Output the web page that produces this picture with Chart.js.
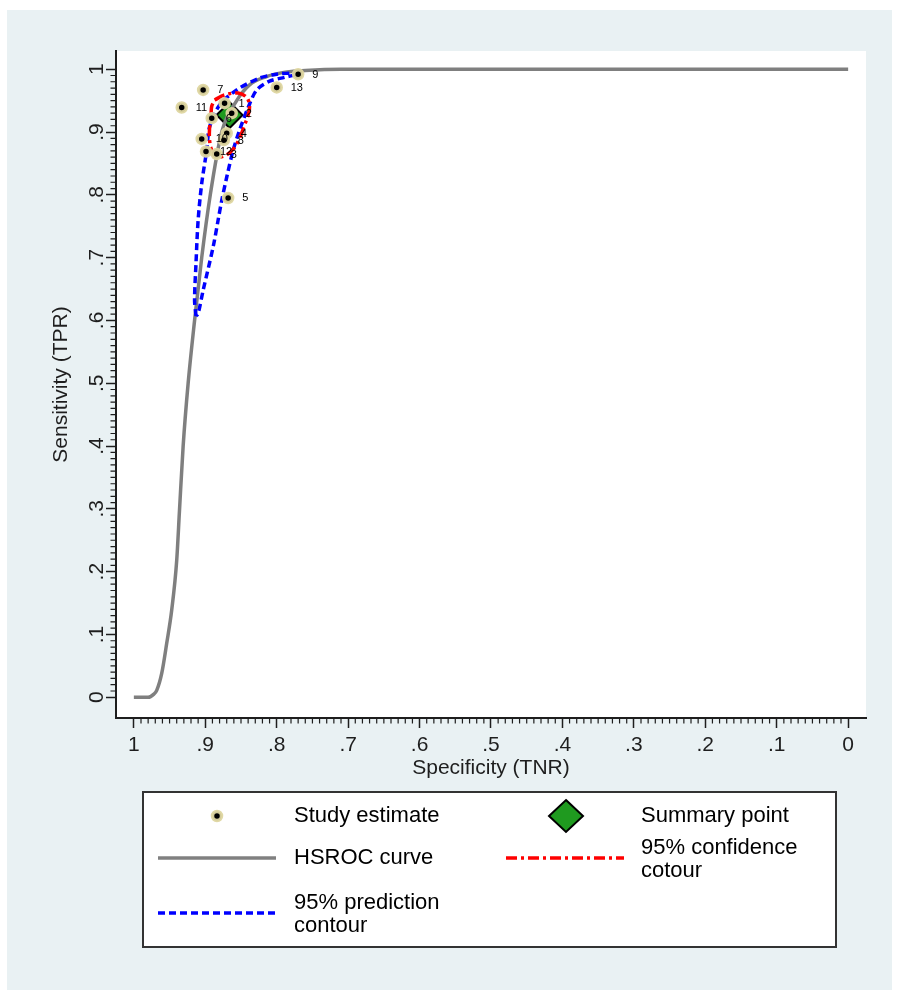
<!DOCTYPE html>
<html>
<head>
<meta charset="utf-8">
<title>HSROC</title>
<script src="https://cdn.jsdelivr.net/npm/chart.js@4.4.0/dist/chart.umd.min.js"></script>
<style>
  html, body { margin: 0; padding: 0; background: #fff; }
  canvas { display: block; }
</style>
</head>
<body>
<canvas id="roc" width="897" height="994"></canvas>
<script>
// --- 1. Data ---
// HSROC curve (specificity, sensitivity)
const hsrocSpec = [1.0, 0.98, 0.972, 0.968, 0.961, 0.954, 0.947, 0.940, 0.936, 0.931, 0.924, 0.915, 0.905, 0.893, 0.877, 0.856, 0.838, 0.815, 0.79, 0.76, 0.71, 0.65, 0.0];
const hsrocSens = [0, 0, 0.005, 0.011, 0.038, 0.086, 0.139, 0.218, 0.30, 0.40, 0.50, 0.60, 0.70, 0.80, 0.90, 0.95, 0.975, 0.988, 0.995, 0.998, 1.0, 1.0, 1.0];

// 95% prediction contour (closed loop)
const predSpec = [0.913, 0.915, 0.913, 0.910, 0.905, 0.898, 0.894, 0.880, 0.856, 0.824, 0.800, 0.777, 0.768, 0.789, 0.810, 0.828, 0.840, 0.852, 0.861, 0.870, 0.877, 0.882, 0.889, 0.903, 0.910, 0.913];
const predSens = [0.607, 0.632, 0.691, 0.760, 0.818, 0.871, 0.908, 0.943, 0.967, 0.986, 0.992, 0.994, 0.993, 0.987, 0.981, 0.967, 0.939, 0.903, 0.871, 0.828, 0.791, 0.760, 0.717, 0.648, 0.611, 0.607];

// 95% confidence contour (closed loop)
const confSpec = [0.887, 0.873, 0.854, 0.842, 0.838, 0.840, 0.845, 0.852, 0.860, 0.871, 0.884, 0.891, 0.894, 0.894, 0.892, 0.891, 0.887];
const confSens = [0.951, 0.959, 0.962, 0.955, 0.941, 0.927, 0.911, 0.890, 0.874, 0.863, 0.861, 0.871, 0.887, 0.906, 0.927, 0.941, 0.951];

// study estimates
const studyIds  = ['1', '2', '3', '4', '5', '6', '7', '8', '9', '10', '11', '12', '13'];
const studySpec = [0.873, 0.863, 0.884, 0.870, 0.868, 0.891, 0.903, 0.874, 0.770, 0.905, 0.933, 0.899, 0.800];
const studySens = [0.946, 0.930, 0.865, 0.898, 0.795, 0.922, 0.967, 0.887, 0.992, 0.889, 0.939, 0.869, 0.971];

// summary point
const summarySpec = [0.866];
const summarySens = [0.927];

// axis ticks
const tickValues = [0, 0.1, 0.2, 0.3, 0.4, 0.5, 0.6, 0.7, 0.8, 0.9, 1];
const tickLabels = ['0', '.1', '.2', '.3', '.4', '.5', '.6', '.7', '.8', '.9', '1'];
const minorTickValues = [];
for (let i = 0; i <= 100; i++) { if (i % 10 !== 0) minorTickValues.push(i / 100); }

const FONT = "'Liberation Sans', Arial, sans-serif";
const INK = '#1e1e1e';
const HALO = 'rgba(222,214,160,0.95)';

function toPoints(xs, ys) {
    return xs.map((x, i) => ({ x: x, y: ys[i] }));
}

function labelFor(value) {
    const i = tickValues.findIndex(v => Math.abs(v - value) < 1e-9);
    return i >= 0 ? tickLabels[i] : '';
}

// --- 2. Plugins ---
// background panels
const backgroundPlugin = {
    id: 'background',
    beforeDraw(chart) {
        const { ctx, chartArea } = chart;
        ctx.save();
        ctx.fillStyle = '#ffffff';
        ctx.fillRect(0, 0, chart.width, chart.height);
        ctx.fillStyle = '#e9f1f3';
        ctx.fillRect(7, 10, chart.width - 12, chart.height - 14);
        ctx.fillStyle = '#ffffff';
        ctx.fillRect(chartArea.left, chartArea.top, chartArea.right - chartArea.left, chartArea.bottom - chartArea.top);
        ctx.restore();
    }
};

// small ticks every 0.01
const minorTicksPlugin = {
    id: 'minorTicks',
    afterDraw(chart) {
        const { ctx, chartArea, scales } = chart;
        ctx.save();
        ctx.strokeStyle = INK;
        ctx.lineWidth = 1.2;
        ctx.beginPath();
        minorTickValues.forEach(v => {
            const px = scales.x.getPixelForValue(v);
            ctx.moveTo(px, chartArea.bottom);
            ctx.lineTo(px, chartArea.bottom + 5.5);
            const py = scales.y.getPixelForValue(v);
            ctx.moveTo(chartArea.left, py);
            ctx.lineTo(chartArea.left - 5.5, py);
        });
        ctx.stroke();
        ctx.restore();
    }
};

// study numbers next to the dots
const studyLabelsPlugin = {
    id: 'studyLabels',
    afterDatasetsDraw(chart) {
        const { ctx } = chart;
        const meta = chart.getDatasetMeta(3);
        ctx.save();
        ctx.font = '11px ' + FONT;
        ctx.fillStyle = '#000';
        ctx.textAlign = 'left';
        ctx.textBaseline = 'middle';
        meta.data.forEach((el, i) => {
            ctx.fillText(studyIds[i], el.x + 14, el.y + 0.5);
        });
        ctx.restore();
    }
};

// boxed legend under the plot
const legendBoxPlugin = {
    id: 'legendBox',
    afterDraw(chart) {
        const ctx = chart.ctx;
        ctx.save();
        ctx.fillStyle = '#ffffff';
        ctx.fillRect(143, 792, 693, 155);
        ctx.strokeStyle = '#333';
        ctx.lineWidth = 2;
        ctx.strokeRect(143, 792, 693, 155);

        // study marker
        ctx.beginPath();
        ctx.arc(217, 816, 4.5, 0, Math.PI * 2);
        ctx.fillStyle = '#000';
        ctx.fill();
        ctx.lineWidth = 3.5;
        ctx.strokeStyle = HALO;
        ctx.stroke();

        // diamond
        ctx.beginPath();
        ctx.moveTo(566, 800);
        ctx.lineTo(583, 816);
        ctx.lineTo(566, 832);
        ctx.lineTo(549, 816);
        ctx.closePath();
        ctx.fillStyle = '#1f9a1f';
        ctx.fill();
        ctx.lineWidth = 2;
        ctx.strokeStyle = '#000';
        ctx.stroke();

        // line samples
        ctx.lineWidth = 3.5;
        ctx.strokeStyle = '#808080';
        ctx.beginPath(); ctx.moveTo(158, 858); ctx.lineTo(276, 858); ctx.stroke();
        ctx.strokeStyle = '#ff0000';
        ctx.setLineDash([11, 4, 3, 4]);
        ctx.beginPath(); ctx.moveTo(506, 858); ctx.lineTo(624, 858); ctx.stroke();
        ctx.strokeStyle = '#0000ff';
        ctx.setLineDash([7, 4]);
        ctx.beginPath(); ctx.moveTo(158, 913); ctx.lineTo(276, 913); ctx.stroke();
        ctx.setLineDash([]);

        // texts
        ctx.fillStyle = '#000';
        ctx.font = '22px ' + FONT;
        ctx.textAlign = 'left';
        ctx.textBaseline = 'middle';
        ctx.fillText('Study estimate', 294, 816);
        ctx.fillText('Summary point', 641, 816);
        ctx.fillText('HSROC curve', 294, 858);
        ctx.fillText('95% confidence', 641, 848);
        ctx.fillText('cotour', 641, 871);
        ctx.fillText('95% prediction', 294, 903);
        ctx.fillText('contour', 294, 926);
        ctx.restore();
    }
};

// --- 3. Chart ---
const ctx = document.getElementById('roc').getContext('2d');

const axisCommon = {
    type: 'linear',
    afterBuildTicks: scale => { scale.ticks = tickValues.map(v => ({ value: v })); },
    grid: { display: true, drawOnChartArea: false, drawTicks: true, tickLength: 10, tickWidth: 1.5, tickColor: INK },
    border: { display: true, color: INK, width: 2 }
};

const rocChart = new Chart(ctx, {
    type: 'scatter',
    data: {
        datasets: [
            {
                label: 'HSROC curve',
                data: toPoints(hsrocSpec, hsrocSens),
                showLine: true,
                borderColor: '#7f7f7f',
                borderWidth: 3.5,
                pointRadius: 0,
                cubicInterpolationMode: 'monotone',
                order: 4
            },
            {
                label: '95% prediction contour',
                data: toPoints(predSpec, predSens),
                showLine: true,
                borderColor: '#0000ff',
                borderWidth: 3.5,
                borderDash: [7, 4],
                pointRadius: 0,
                tension: 0.3,
                order: 3
            },
            {
                label: '95% confidence cotour',
                data: toPoints(confSpec, confSens),
                showLine: true,
                borderColor: '#ff0000',
                borderWidth: 3.5,
                borderDash: [11, 4, 3, 4],
                pointRadius: 0,
                tension: 0.35,
                order: 2
            },
            {
                label: 'Study estimate',
                data: toPoints(studySpec, studySens),
                pointRadius: 4.5,
                pointBorderWidth: 3.5,
                pointBackgroundColor: '#000',
                pointBorderColor: HALO,
                order: 1
            },
            {
                label: 'Summary point',
                data: toPoints(summarySpec, summarySens),
                pointStyle: 'rectRot',
                pointRadius: 13,
                pointBorderWidth: 2,
                pointBackgroundColor: '#1f9a1f',
                pointBorderColor: '#000',
                order: 5
            }
        ]
    },
    options: {
        responsive: false,
        animation: false,
        layout: { padding: { left: 0, top: 51, right: 31, bottom: 213 } },
        plugins: {
            legend: { display: false },
            tooltip: { enabled: false }
        },
        scales: {
            x: {
                ...axisCommon,
                reverse: true,
                min: -0.025,
                max: 1.025,
                afterFit: scale => { scale.height = 63; },
                ticks: {
                    autoSkip: false,
                    maxRotation: 0,
                    padding: 5,
                    color: INK,
                    font: { family: FONT, size: 21 },
                    callback: v => labelFor(v)
                },
                title: {
                    display: true,
                    text: 'Specificity (TNR)',
                    color: INK,
                    font: { family: FONT, size: 21 },
                    padding: { top: 0, bottom: 0 }
                }
            },
            y: {
                ...axisCommon,
                min: -0.033,
                max: 1.029,
                afterFit: scale => { scale.width = 116; },
                ticks: {
                    autoSkip: false,
                    minRotation: 90,
                    maxRotation: 90,
                    crossAlign: 'center',
                    padding: 0,
                    color: INK,
                    font: { family: FONT, size: 21 },
                    callback: v => labelFor(v)
                },
                title: {
                    display: true,
                    text: 'Sensitivity (TPR)',
                    color: INK,
                    font: { family: FONT, size: 21 },
                    padding: { top: 49, bottom: 0 }
                }
            }
        }
    },
    plugins: [backgroundPlugin, minorTicksPlugin, studyLabelsPlugin, legendBoxPlugin]
});
</script>
</body>
</html>
